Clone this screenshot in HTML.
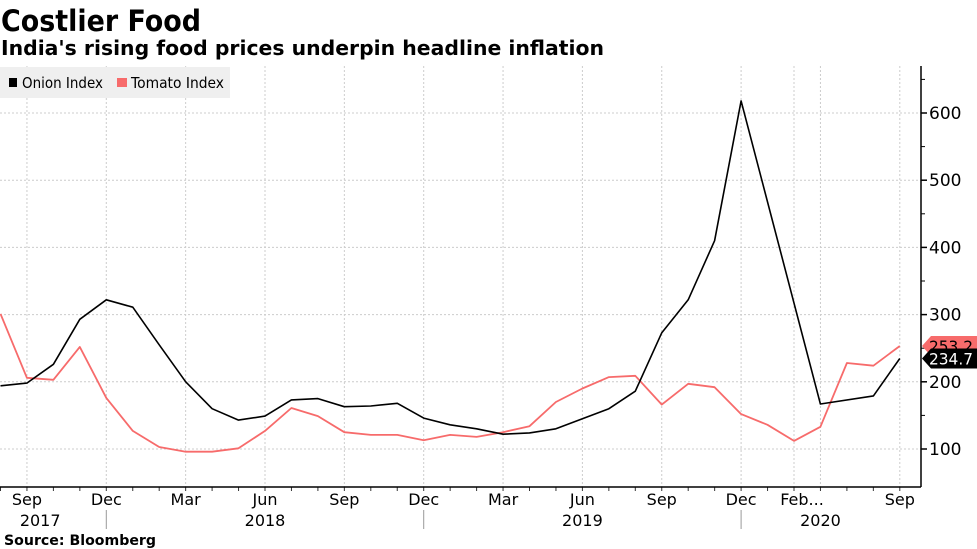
<!DOCTYPE html>
<html><head><meta charset="utf-8"><style>
html,body{margin:0;padding:0;background:#fff;}
svg{display:block;font-family:"DejaVu Sans","Liberation Sans",sans-serif;}
</style></head><body>
<svg id="chart" width="977" height="549" viewBox="0 0 977 549" xmlns="http://www.w3.org/2000/svg">
<text x="1" y="31" font-size="29" font-weight="bold" textLength="200" lengthAdjust="spacingAndGlyphs">Costlier Food</text>
<text x="1" y="55" font-size="20" font-weight="bold" textLength="603" lengthAdjust="spacingAndGlyphs">India's rising food prices underpin headline inflation</text>
<g id="grid"></g>
<g id="axes"></g>
<g id="series"></g>
<g>
<rect x="0" y="67" width="230" height="31" fill="#efefef"/>
<rect x="9" y="78" width="8" height="9" fill="#000"/>
<text x="22" y="88" font-size="15" textLength="81" lengthAdjust="spacingAndGlyphs">Onion Index</text>
<rect x="117" y="78" width="10" height="9" fill="#f76b6b"/>
<text x="131" y="88" font-size="15" textLength="93" lengthAdjust="spacingAndGlyphs">Tomato Index</text>
</g>
<text x="4" y="545" font-size="14" font-weight="bold" textLength="152" lengthAdjust="spacingAndGlyphs">Source: Bloomberg</text>
</svg>
<script>
const onion = [194,198,226,293,322,311,255,200,160,143,149,173,175,163,164,168,146,136,130,122,124,130,145,160,186,273,322,410,618,null,null,167,null,179,234.7];
const tomato = [301,206,203,252,176,127,103,96,96,101,127,161,149,125,121,121,113,121,118,125,134,170,190,207,209,166,197,192,152,136,112,133,228,224,253.2];
const yTicks = [100,200,300,400,500,600];
const xTickIdx = [1,4,7,10,13,16,19,22,25,28,30,34];
const xTickLabels = ["Sep","Dec","Mar","Jun","Sep","Dec","Mar","Jun","Sep","Dec","Feb...","Sep"];
const yearIdx = [1.5,10,22,31];
const yearLabels = ["2017","2018","2019","2020"];
const yearDividers = [4,16,28];

const NS="http://www.w3.org/2000/svg";
function x(i){return 0.5+i*26.45;}
function y(v){return 449-(v-100)*0.672;}
function mk(tag,attrs,parent){const e=document.createElementNS(NS,tag);for(const k in attrs)e.setAttribute(k,attrs[k]);document.getElementById(parent).appendChild(e);return e;}

yTicks.forEach(v=>{
  const g=mk('line',{x1:0,x2:921,y1:y(v),y2:y(v),stroke:'#ccc','stroke-dasharray':'2,2','stroke-width':1},'grid');
  
  
  const t=mk('line',{x1:921,x2:927,y1:y(v),y2:y(v),stroke:'#000','stroke-width':1.5},'axes');
  
  
  const l=mk('text',{x:929,y:y(v)+6,'font-size':17},'axes');
  
  
  l.textContent=v;
});
for(let v=150;v<=650;v+=100){
  const t=mk('line',{x1:921,x2:925,y1:y(v),y2:y(v),stroke:'#000','stroke-width':1},'axes');
  
  
}
xTickIdx.concat([31]).forEach(i=>{
  const g=mk('line',{x1:x(i),x2:x(i),y1:66,y2:487,stroke:'#ccc','stroke-dasharray':'2,2','stroke-width':1},'grid');
  
  
});
for(let i=0;i<=34;i++){
  const t=mk('line',{x1:x(i),x2:x(i),y1:487,y2:491,stroke:'#333','stroke-width':1},'axes');
  
  
}
xTickIdx.forEach((i,k)=>{
  const l=mk('text',{x:x(i)+(xTickLabels[k]==="Feb..."?8:0),y:505,'font-size':16,'text-anchor':'middle'},'axes');
  
  
  l.textContent=xTickLabels[k];
});
yearIdx.forEach((i,k)=>{
  const l=mk('text',{x:x(i),y:526,'font-size':16,'text-anchor':'middle'},'axes');
  
  
  l.textContent=yearLabels[k];
});
yearDividers.forEach(i=>{
  const d=mk('line',{x1:x(i),x2:x(i),y1:510,y2:529,stroke:'#999','stroke-width':1},'axes');
  
  
});
const ax=mk('line',{x1:0,x2:921,y1:487,y2:487,stroke:'#000','stroke-width':1.5},'axes');


const ay=mk('line',{x1:921,x2:921,y1:66,y2:487,stroke:'#000','stroke-width':1.5},'axes');



function path(arr){let d='';arr.forEach((v,i)=>{if(v===null)return;d+=(d?'L':'M')+x(i).toFixed(1)+','+y(v).toFixed(1);});return d;}
const pt=mk('path',{d:path(tomato),fill:'none',stroke:'#f76b6b','stroke-width':1.8,'stroke-linejoin':'round'},'series');


const po=mk('path',{d:path(onion),fill:'none',stroke:'#000','stroke-width':1.6,'stroke-linejoin':'round'},'series');



function tag(v,fill,txtColor,name){
  const yy=y(v);
  const p=mk('path',{d:`M922,${yy} L931,${yy-10} L977,${yy-10} L977,${yy+10} L931,${yy+10} Z`,fill:fill},'series');
  
  
  const t=mk('text',{x:929,y:yy+6,'font-size':16,fill:txtColor,textLength:44,lengthAdjust:'spacingAndGlyphs'},'series');
  
  
  t.textContent=v.toFixed(1);
}
tag(tomato[tomato.length-1],'#f76b6b','#000','tomato-last-value');
tag(onion[onion.length-1],'#000','#fff','onion-last-value');
</script>
</body></html>
